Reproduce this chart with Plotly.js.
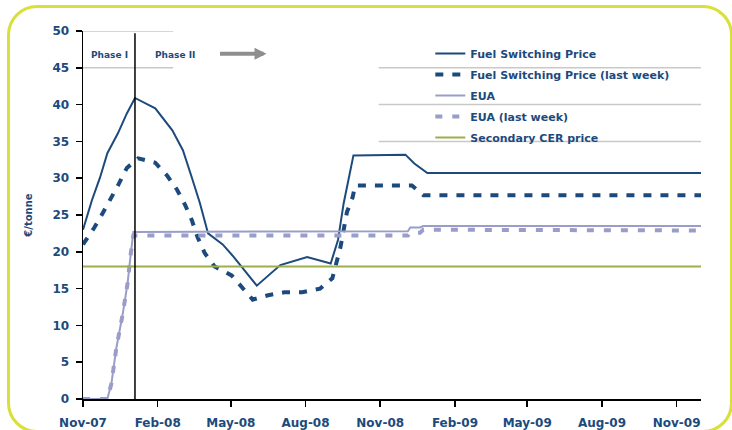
<!DOCTYPE html>
<html>
<head>
<meta charset="utf-8">
<script src="https://cdn.plot.ly/plotly-3.0.1.min.js"></script>
<style>
  html, body { margin: 0; padding: 0; background: #ffffff; }
  #wrap { position: relative; width: 732px; height: 430px; overflow: hidden; background: #ffffff; }
  #frame { position: absolute; left: 7px; top: 5px; width: 726px; height: 428px;
           border: 3px solid #d9e03a; border-radius: 30px; box-sizing: border-box; }
  #chart { position: absolute; left: 0; top: 0; width: 732px; height: 430px; }
</style>
</head>
<body>
<div id="wrap">
  <div id="frame"></div>
  <div id="chart"></div>
</div>
<script>
// Fuel switching price, current estimate (EUR/tonne)
const fspDates = ['2007-11-01','2007-11-12','2007-11-22','2007-12-01','2007-12-14','2007-12-25',
  '2008-01-04','2008-01-29','2008-02-19','2008-03-03','2008-03-14','2008-03-24','2008-04-03',
  '2008-04-21','2008-05-03','2008-06-02','2008-07-01','2008-08-03','2008-09-01','2008-09-10',
  '2008-09-17','2008-09-29','2008-12-02','2008-12-13','2008-12-29','2009-12-01'];
const fspValues = [23.0, 27.0, 30.1, 33.4, 36.1, 38.8,
  40.9, 39.5, 36.5, 33.8, 30.1, 26.6, 22.5,
  21.0, 19.5, 15.4, 18.2, 19.3, 18.4, 21.6,
  26.6, 33.1, 33.2, 32.0, 30.7, 30.7];

// Fuel switching price, previous week
const fspLwDates = ['2007-11-01','2007-11-15','2007-11-25','2007-12-06','2007-12-14','2007-12-25',
  '2008-01-08','2008-01-29','2008-02-13','2008-02-25','2008-03-06','2008-03-14','2008-03-21',
  '2008-03-30','2008-04-11','2008-05-02','2008-05-14','2008-05-28','2008-06-16','2008-07-06',
  '2008-07-28','2008-08-19','2008-09-03','2008-09-13','2008-09-21','2008-09-28','2008-10-01',
  '2008-12-10','2008-12-24','2009-12-01'];
const fspLwValues = [21.0, 23.3, 25.2, 27.3, 29.0, 31.4,
  32.7, 32.1, 30.3, 28.4, 26.3, 24.3, 22.0,
  19.8, 18.0, 16.8, 15.2, 13.5, 14.1, 14.5,
  14.5, 15.0, 16.4, 20.6, 25.4, 27.4, 29.0,
  29.0, 27.7, 27.7];

// EUA price
const euaDates = ['2007-11-01','2007-12-01','2007-12-06','2007-12-12','2007-12-20','2007-12-26',
  '2007-12-30','2008-01-02','2008-12-05','2008-12-08','2008-12-20','2008-12-24','2009-12-01'];
const euaValues = [0, 0, 2.1, 6.9, 11.6, 15.8,
  19.9, 22.7, 22.8, 23.3, 23.3, 23.5, 23.5];

// EUA price, previous week
const euaLwDates = ['2007-11-01','2007-12-01','2007-12-06','2007-12-12','2007-12-20','2007-12-26',
  '2007-12-30','2008-01-02','2008-12-05','2008-12-08','2008-12-20','2008-12-24','2009-12-01'];
const euaLwValues = [0, 0, 2.1, 6.9, 11.6, 15.8,
  19.9, 22.2, 22.2, 22.6, 22.6, 23.0, 22.9];

// Secondary CER price
const cerDates = ['2007-11-01', '2009-12-01'];
const cerValues = [18.0, 18.0];

const seriesNames = ['Fuel Switching Price', 'Fuel Switching Price (last week)', 'EUA',
  'EUA (last week)', 'Secondary CER price'];
const phaseLabels = ['Phase I', 'Phase II'];
const yTickValues = [0, 5, 10, 15, 20, 25, 30, 35, 40, 45, 50];
const phaseStart = '2008-01-04';

const NAVY = '#1d4a7c';
const LAVENDER = '#9a9dc8';
const OLIVE = '#9eae4a';
const GRID = '#c9c9c9';
const FONT = 'DejaVu Sans, Verdana, sans-serif';

const traces = [
  { x: fspDates, y: fspValues, name: seriesNames[0], legendgroup: 'a',
    mode: 'lines', line: { color: NAVY, width: 2 } },
  { x: fspLwDates, y: fspLwValues, name: seriesNames[1], legendgroup: 'b',
    mode: 'lines', line: { color: NAVY, width: 4, dash: '8px,9px' } },
  // last-week EUA line is drawn first so the solid EUA line sits on top of it
  { x: euaLwDates, y: euaLwValues, name: seriesNames[3], legendgroup: 'd', showlegend: false,
    mode: 'lines', line: { color: LAVENDER, width: 4, dash: '7px,10px' } },
  { x: euaDates, y: euaValues, name: seriesNames[2], legendgroup: 'c',
    mode: 'lines', line: { color: LAVENDER, width: 2 } },
  // legend entry for the last-week EUA line
  { x: [null], y: [null], name: seriesNames[3], legendgroup: 'd',
    mode: 'lines', line: { color: LAVENDER, width: 4, dash: '7px,10px' } },
  { x: cerDates, y: cerValues, name: seriesNames[4], legendgroup: 'e',
    mode: 'lines', line: { color: OLIVE, width: 2 } }
];

const layout = {
  width: 732, height: 430,
  margin: { l: 83, r: 31, t: 31, b: 31 },
  paper_bgcolor: 'rgba(0,0,0,0)',
  plot_bgcolor: 'rgba(0,0,0,0)',
  font: { family: FONT, color: NAVY, size: 11, weight: 'bold' },
  showlegend: true,
  legend: {
    x: 0.562, xanchor: 'left', y: 0.978, yanchor: 'top',
    bgcolor: 'rgba(0,0,0,0)', borderwidth: 0,
    font: { family: FONT, size: 11, color: NAVY, weight: 'bold' },
    tracegroupgap: 2, traceorder: 'grouped'
  },
  xaxis: {
    type: 'date',
    range: ['2007-11-01', '2009-12-01'],
    tick0: '2007-11-01', dtick: 'M3', tickformat: '%b-%y',
    ticks: 'outside', ticklen: 6, tickwidth: 1.5, tickcolor: '#000',
    showline: true, linecolor: '#000', linewidth: 1.5,
    showgrid: false, zeroline: false,
    tickfont: { family: FONT, size: 12, color: NAVY, weight: 'bold' },
    ticklabelstandoff: 6
  },
  yaxis: {
    range: [0, 50],
    tickvals: yTickValues,
    ticks: 'outside', ticklen: 6, tickwidth: 1.5, tickcolor: '#000',
    showline: true, linecolor: '#000', linewidth: 1.5,
    showgrid: false, zeroline: false,
    tickfont: { family: FONT, size: 12, color: NAVY, weight: 'bold' },
    ticklabelstandoff: 4,
    title: { text: '€/tonne', standoff: 18,
             font: { family: FONT, size: 10, color: NAVY, weight: 'bold' } }
  },
  shapes: [
    // header rules above and below the phase labels
    { type: 'line', xref: 'x', yref: 'y', x0: '2007-11-01', x1: '2008-02-20', y0: 50, y1: 50,
      line: { color: GRID, width: 1.5 }, layer: 'below' },
    { type: 'line', xref: 'x', yref: 'y', x0: '2007-11-01', x1: '2008-02-20', y0: 45, y1: 45,
      line: { color: GRID, width: 1.5 }, layer: 'below' },
    // rules behind the legend
    { type: 'line', xref: 'x', yref: 'y', x0: '2008-10-30', x1: '2009-12-01', y0: 45, y1: 45,
      line: { color: GRID, width: 1.5 }, layer: 'below' },
    { type: 'line', xref: 'x', yref: 'y', x0: '2008-10-30', x1: '2009-12-01', y0: 40, y1: 40,
      line: { color: GRID, width: 1.5 }, layer: 'below' },
    { type: 'line', xref: 'x', yref: 'y', x0: '2008-10-30', x1: '2009-12-01', y0: 35, y1: 35,
      line: { color: GRID, width: 1.5 }, layer: 'below' },
    // start of Phase II
    { type: 'line', xref: 'x', yref: 'y', x0: phaseStart, x1: phaseStart, y0: 0, y1: 49.7,
      line: { color: '#000', width: 1.5 } }
  ],
  annotations: [
    { x: '2007-12-04', y: 46.7, xref: 'x', yref: 'y', text: phaseLabels[0], showarrow: false,
      font: { family: FONT, size: 9, color: NAVY, weight: 'bold' } },
    { x: '2008-02-22', y: 46.7, xref: 'x', yref: 'y', text: phaseLabels[1], showarrow: false,
      font: { family: FONT, size: 9, color: NAVY, weight: 'bold' } },
    { x: '2008-06-14', y: 46.9, xref: 'x', yref: 'y', text: '', showarrow: true,
      ax: -48, ay: 0, arrowhead: 2, arrowsize: 0.6, arrowwidth: 4, arrowcolor: '#8e8e8e' }
  ]
};

Plotly.newPlot('chart', traces, layout, { staticPlot: true, displayModeBar: false });
</script>
</body>
</html>
